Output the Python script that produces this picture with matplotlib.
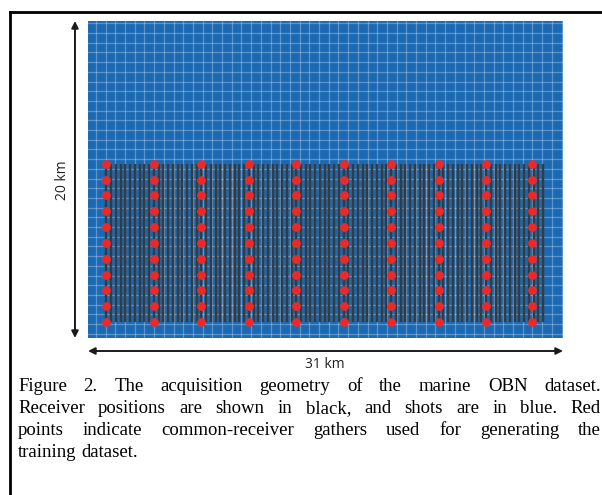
import numpy as np
import matplotlib
matplotlib.use('Agg')
import matplotlib.pyplot as plt
from matplotlib.lines import Line2D

# survey size (km)
SURVEY_W = 31
SURVEY_H = 20

# shot grid (blue area), line spacing in km
shot_dx = 0.633
shot_dy = 0.612
shot_x0 = 0.52
shot_y0 = 19.85

# receiver lines (black)
rec_x_start = 1.2
rec_x_end = 29.7
rec_n_lines = 93
rec_y = [1.0, 11.0]

# selected common-receiver gathers (red)
gather_x = [1.2, 4.3, 7.4, 10.5, 13.6, 16.7, 19.8, 22.9, 26.0, 29.0]
gather_y = [1, 2, 3, 4, 5, 6, 7, 8, 9, 10, 11]

caption_lines = [
    "Figure 2. The acquisition geometry of the marine OBN dataset.",
    "Receiver positions are shown in black, and shots are in blue. Red",
    "points indicate common-receiver gathers used for generating the",
    "training dataset.",
]

W, H = 602, 495
fig = plt.figure(figsize=(W / 100, H / 100), dpi=100)
ax = fig.add_axes([88 / W, 1 - 338 / H, 475 / W, 317 / H])
ax.set_xlim(0, SURVEY_W)
ax.set_ylim(0, SURVEY_H)
ax.axis('off')

# shots
ax.add_patch(plt.Rectangle((0, 0), SURVEY_W, SURVEY_H, color='#1c69b3', zorder=0))
for x in np.arange(shot_x0, SURVEY_W, shot_dx):
    ax.axvline(x, color='white', alpha=0.28, lw=0.9, zorder=1)
for y in np.arange(shot_y0, 0, -shot_dy):
    ax.axhline(y, color='white', alpha=0.28, lw=0.9, zorder=1)

# receivers
for x in np.linspace(rec_x_start, rec_x_end, rec_n_lines):
    ax.plot([x, x], rec_y, color='#3a3a3a', lw=1.75, solid_capstyle='butt', zorder=2)

# red gathers
gx, gy = np.meshgrid(gather_x, gather_y)
ax.plot(gx.ravel(), gy.ravel(), 'o', color='#ea2a2a', ms=6.3, mec='none', zorder=3)

# dimension arrows
arr = dict(arrowstyle='<|-|>', color='#1a1a1a', lw=1.4, mutation_scale=10,
           shrinkA=0, shrinkB=0)
ax.annotate('', xy=(-0.85, 0), xytext=(-0.85, SURVEY_H), arrowprops=arr,
            annotation_clip=False)
ax.annotate('', xy=(0, -0.82), xytext=(SURVEY_W, -0.82), arrowprops=arr,
            annotation_clip=False)
fig.text(62 / W, 1 - 180 / H, '20 km', rotation=90, ha='center', va='center',
         fontsize=10, family='Open Sans', color='#222222')
fig.text(325 / W, 1 - 365 / H, '31 km', ha='center', va='center',
         fontsize=10, family='Open Sans', color='#222222')

# frame (top and left edges)
fig.add_artist(Line2D([10 / W, 1], [1 - 12 / H, 1 - 12 / H], color='black', lw=2,
                      transform=fig.transFigure))
fig.add_artist(Line2D([10 / W, 10 / W], [1 - 12 / H, 0], color='black', lw=2,
                      transform=fig.transFigure))

# justified caption
renderer = fig.canvas.get_renderer()
left, right = 18, 601
baselines = [391, 413, 435, 457]
fsize = 13.5
for i, (line, yb) in enumerate(zip(caption_lines, baselines)):
    words = line.split(' ')
    texts = [fig.text(0, 1 - yb / H, w, fontsize=fsize, family='Liberation Serif',
                      va='baseline', ha='left') for w in words]
    widths = [t.get_window_extent(renderer).width for t in texts]
    if i < len(caption_lines) - 1:
        gap = (right - left - sum(widths)) / (len(words) - 1)
    else:
        gap = fsize * 0.25 * 100 / 72
    x = left
    for t, w in zip(texts, widths):
        t.set_x(x / W)
        x += w + gap

fig.savefig('out.png', dpi=100)
